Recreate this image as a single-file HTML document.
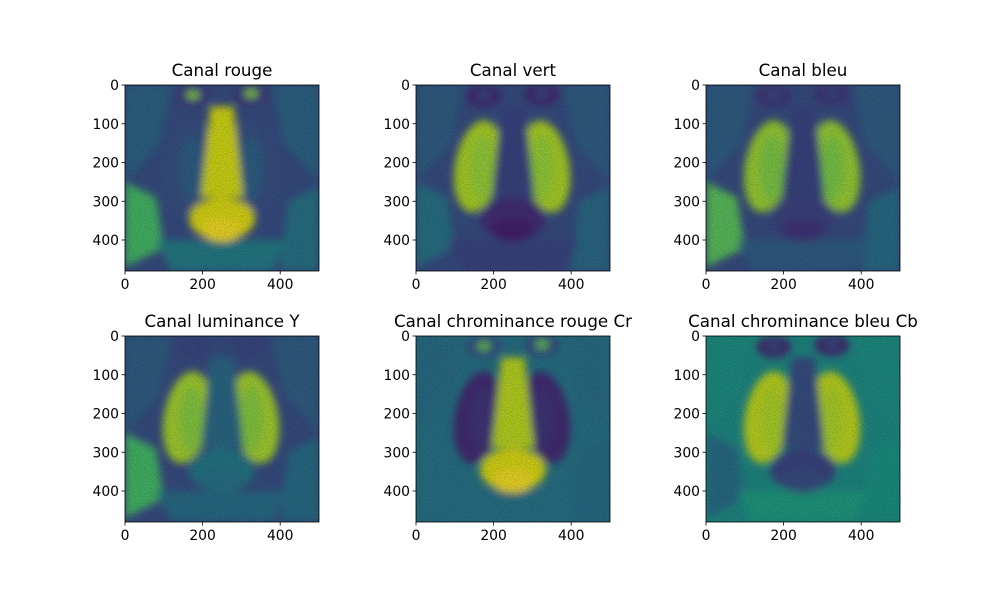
<!DOCTYPE html>
<html><head><meta charset="utf-8"><style>
body{margin:0;background:#fff;}
svg{display:block;font-family:"DejaVu Sans","Liberation Sans",sans-serif;}
</style></head><body>
<svg id="fig" width="1000" height="600" viewBox="0 0 1000 600">
<defs>
<filter id="soft" x="-10%" y="-10%" width="120%" height="120%"><feGaussianBlur stdDeviation="4"/></filter>
<filter id="noise" x="0" y="0" width="100%" height="100%">
<feTurbulence type="fractalNoise" baseFrequency="0.9" numOctaves="2" seed="3" result="n"/>
<feColorMatrix type="matrix" values="0 0 0 0 0  0 0 0 0 0  0 0 0 0 0  0 0 0 0.35 0" in="n" result="m"/>
<feComposite in="m" in2="SourceGraphic" operator="in"/>
</filter>
</defs>
</svg>
<script>
const xTicks=[0,200,400];
const yTicks=[0,100,200,300,400];
const imgW=500, imgH=480;
const titles=["Canal rouge","Canal vert","Canal bleu","Canal luminance Y","Canal chrominance rouge Cr","Canal chrominance bleu Cb"];
const lefts=[125,416,706];
const tops=[85,336];
const W=194, H=186;
const palettes=[
 {bg:"#3b528b",fur:"#2a788e",side:"#4ac16d",cheek:"#3a548c",ridge:"#2c728e",nose:"#dde318",muzzle:"#e7e419",mouth:"#fde725",eye:"#8fd744",dark:"#433e85",chin:"#26828e"},
 {bg:"#3b528b",fur:"#2d708e",side:"#2a788e",cheek:"#b5de2b",ridge:"#8fd744",nose:"#3e4a89",muzzle:"#46327e",mouth:"#482475",eye:"#3b528b",dark:"#472c7a",chin:"#3e4a89"},
 {bg:"#3b528b",fur:"#2c728e",side:"#5ec962",cheek:"#a2da37",ridge:"#6ece58",nose:"#3e4a89",muzzle:"#404688",mouth:"#443983",eye:"#3b528b",dark:"#453781",chin:"#33638d"},
 {bg:"#3b528b",fur:"#2c728e",side:"#4ac16d",cheek:"#addc30",ridge:"#7ad151",nose:"#2e6e8e",muzzle:"#287d8e",mouth:"#2a788e",eye:"#3b528b",dark:"#3e4a89",chin:"#2c728e"},
 {bg:"#2a788e",fur:"#2c728e",side:"#2a788e",cheek:"#472d7b",ridge:"#433e85",nose:"#c2df23",muzzle:"#e5e419",mouth:"#fde725",eye:"#6ece58",dark:"#3b528b",chin:"#2a788e"},
 {bg:"#21918c",fur:"#1f988b",side:"#2c728e",cheek:"#c8e020",ridge:"#a8db34",nose:"#3b528b",muzzle:"#3e4a89",mouth:"#3b528b",eye:"#3b528b",dark:"#472d7b",chin:"#20a386"}
];
const NS="http://www.w3.org/2000/svg";
const svg=document.getElementById("fig");
function mk(tag,attrs,parent){const e=document.createElementNS(NS,tag);for(const k in attrs)e.setAttribute(k,attrs[k]);parent.appendChild(e);return e;}
for(let i=0;i<6;i++){
 const L=lefts[i%3], T=tops[Math.floor(i/3)], p=palettes[i];
 const sx=v=>L+v*W/imgW, sy=v=>T+v*H/imgH;
 const g=mk("g",{},svg);
 
 
 const cp=mk("clipPath",{id:"c"+i},g);
 mk("rect",{x:L,y:T,width:W,height:H},cp);
 const img=mk("g",{"clip-path":"url(#c"+i+")"},g);
 
 
 mk("rect",{x:L,y:T,width:W,height:H,fill:p.bg},img);
 const s=mk("g",{filter:"url(#soft)"},img);
 const P=(pts)=>pts.map((q,j)=>(j?"L":"M")+sx(q[0])+" "+sy(q[1])).join(" ")+"Z";
 mk("path",{d:P([[0,0],[120,0],[90,150],[0,250]]),fill:p.fur,opacity:0.6},s);
 mk("path",{d:P([[500,0],[380,0],[410,150],[500,250]]),fill:p.fur,opacity:0.6},s);
 mk("path",{d:P([[0,250],[80,290],[100,420],[0,470]]),fill:p.side},s);
 mk("path",{d:P([[500,260],[420,300],[400,480],[500,480]]),fill:p.fur},s);
 mk("path",{d:P([[80,400],[420,400],[380,480],[120,480]]),fill:p.chin},s);
 mk("ellipse",{cx:sx(160),cy:sy(210),rx:W*60/imgW,ry:H*120/imgH,fill:p.cheek,transform:`rotate(10 ${sx(160)} ${sy(210)})`},s);
 mk("ellipse",{cx:sx(335),cy:sy(210),rx:W*60/imgW,ry:H*120/imgH,fill:p.cheek,transform:`rotate(-10 ${sx(335)} ${sy(210)})`},s);
 mk("ellipse",{cx:sx(170),cy:sy(215),rx:W*30/imgW,ry:H*85/imgH,fill:p.ridge,opacity:0.6},s);
 mk("ellipse",{cx:sx(325),cy:sy(215),rx:W*30/imgW,ry:H*85/imgH,fill:p.ridge,opacity:0.6},s);
 mk("path",{d:P([[220,55],[280,55],[305,290],[195,290]]),fill:p.nose},s);
 mk("ellipse",{cx:sx(250),cy:sy(345),rx:W*85/imgW,ry:H*55/imgH,fill:p.muzzle},s);
 mk("ellipse",{cx:sx(250),cy:sy(375),rx:W*55/imgW,ry:H*30/imgH,fill:p.mouth},s);
 mk("ellipse",{cx:sx(175),cy:sy(28),rx:W*45/imgW,ry:H*28/imgH,fill:p.dark},s);
 mk("ellipse",{cx:sx(325),cy:sy(24),rx:W*45/imgW,ry:H*28/imgH,fill:p.dark},s);
 mk("ellipse",{cx:sx(175),cy:sy(26),rx:W*18/imgW,ry:H*12/imgH,fill:p.eye},s);
 mk("ellipse",{cx:sx(325),cy:sy(22),rx:W*18/imgW,ry:H*12/imgH,fill:p.eye},s);
 mk("rect",{x:L,y:T,width:W,height:H,fill:"#000",filter:"url(#noise)"},img);
 const fr=mk("rect",{x:L,y:T,width:W,height:H,fill:"none",stroke:"#000","stroke-width":0.8},g);
 
 
 for(const t of xTicks){
  const x=sx(t);
  const tl=mk("line",{x1:x,x2:x,y1:T+H,y2:T+H+3.5,stroke:"#000","stroke-width":0.8},g);
  
  
  const tx=mk("text",{x:x,y:T+H+18,"text-anchor":"middle","font-size":"13.9"},g);
  tx.textContent=t;
  
  
 }
 for(const t of yTicks){
  const y=sy(t);
  const tl=mk("line",{x1:L-3.5,x2:L,y1:y,y2:y,stroke:"#000","stroke-width":0.8},g);
  
  
  const tx=mk("text",{x:L-6,y:y+5,"text-anchor":"end","font-size":"13.9"},g);
  tx.textContent=t;
  
  
 }
 const ti=mk("text",{x:L+W/2,y:T-9,"text-anchor":"middle","font-size":"16.7"},g);
 ti.textContent=titles[i];
 
 
}
</script>
</body></html>
